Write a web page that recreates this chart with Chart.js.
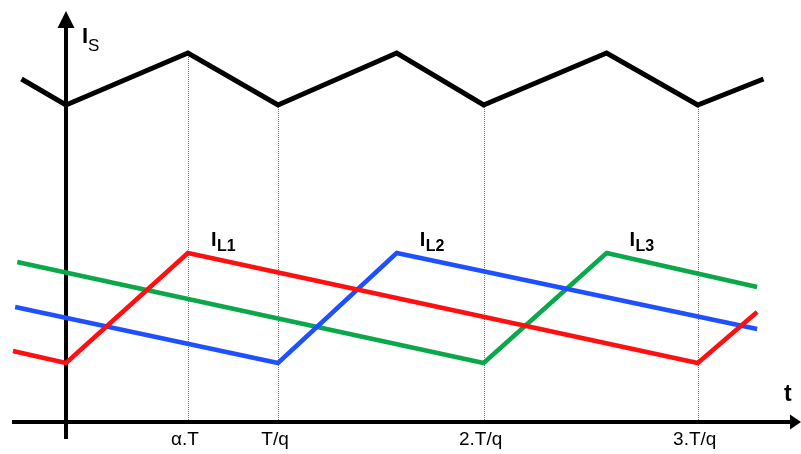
<!DOCTYPE html>
<html>
<head>
<meta charset="utf-8">
<script src="https://cdn.jsdelivr.net/npm/chart.js@4"></script>
<style>
  body { margin: 0; background: #fff; }
  #wrap { width: 801px; height: 454px; }
</style>
</head>
<body>
<div id="wrap"><canvas id="myChart"></canvas></div>
<script>
// time in units of T/q, current in arbitrary units
var isX = [-0.21, 0, 0.575, 1, 1.56, 1.97, 2.55, 2.98, 3.29];
var isY = [34.3, 31.7, 36.9, 31.7, 36.9, 31.7, 36.9, 31.7, 34.3];

var il1X = [-0.25, 0, 0.575, 2.98, 3.26];
var il1Y = [7.1, 5.9, 16.9, 5.9, 11.0];

var il2X = [-0.24, 1, 1.56, 3.26];
var il2Y = [11.5, 5.9, 16.9, 9.3];

var il3X = [-0.23, 1.97, 2.55, 3.26];
var il3Y = [16.0, 5.9, 16.9, 13.5];

var tickLabels = ['α.T', 'T/q', '2.T/q', '3.T/q'];
var tickIdx = [2, 3, 5, 7];       // points of Is where the dotted guides start
var peakIdx = [2, 2, 2];          // peak point of each IL series
var ilNames = ['1', '2', '3'];

function pts(xs, ys) {
    return xs.map(function(x, i) { return { x: x, y: ys[i] }; });
}

function series(label, xs, ys, color, w) {
    return {
        label: label,
        data: pts(xs, ys),
        borderColor: color,
        borderWidth: w,
        pointRadius: 0,
        tension: 0,
        borderJoinStyle: 'miter',
        fill: false
    };
}

var decor = {
    id: 'decor',
    beforeDatasetsDraw: function(chart) {
        var ctx = chart.ctx;
        var xs = chart.scales.x, ys = chart.scales.y;
        var x0 = xs.getPixelForValue(0), y0 = ys.getPixelForValue(0);
        var isMeta = chart.getDatasetMeta(0);

        // dotted guides + tick labels
        ctx.save();
        ctx.strokeStyle = '#777';
        ctx.lineWidth = 1;
        ctx.setLineDash([1, 1]);
        tickIdx.forEach(function(k) {
            var p = isMeta.data[k];
            var px = Math.round(p.x) + 0.5;
            ctx.beginPath();
            ctx.moveTo(px, p.y);
            ctx.lineTo(px, y0);
            ctx.stroke();
        });
        ctx.setLineDash([]);
        ctx.fillStyle = '#000';
        ctx.font = '19px "Liberation Sans", Arial, sans-serif';
        ctx.textAlign = 'center';
        ctx.textBaseline = 'alphabetic';
        tickIdx.forEach(function(k, i) {
            ctx.fillText(tickLabels[i], isMeta.data[k].x - 3, y0 + 23);
        });

        // axes with arrows
        ctx.fillStyle = '#000';
        ctx.fillRect(12, y0 - 2, 780, 4);
        ctx.beginPath();
        ctx.moveTo(801, y0);
        ctx.lineTo(790, y0 - 7.5);
        ctx.lineTo(790, y0 + 7.5);
        ctx.closePath();
        ctx.fill();
        ctx.fillRect(x0 - 2, 26, 4, 413);
        ctx.beginPath();
        ctx.moveTo(x0, 11);
        ctx.lineTo(x0 - 8.5, 28);
        ctx.lineTo(x0 + 8.5, 28);
        ctx.closePath();
        ctx.fill();

        // axis names
        ctx.textAlign = 'left';
        ctx.font = 'bold 22px "Liberation Sans", Arial, sans-serif';
        ctx.fillText('I', x0 + 16, 43);
        ctx.font = '17px "Liberation Sans", Arial, sans-serif';
        ctx.fillText('S', x0 + 22, 51);
        ctx.font = 'bold 23px "Liberation Sans", Arial, sans-serif';
        ctx.fillText('t', 784, 401);

        // inductor current names
        for (var i = 0; i < 3; i++) {
            var pk = chart.getDatasetMeta(i + 1).data[peakIdx[i]];
            ctx.font = 'bold 20px "Liberation Sans", Arial, sans-serif';
            ctx.fillText('I', pk.x + 23, pk.y - 7);
            ctx.font = 'bold 16px "Liberation Sans", Arial, sans-serif';
            ctx.fillText('L' + ilNames[i], pk.x + 29, pk.y - 2);
        }
        ctx.restore();
    }
};

var chart = new Chart(document.getElementById('myChart').getContext('2d'), {
    type: 'line',
    data: {
        datasets: [
            series('Is', isX, isY, '#000000', 5),
            series('IL1', il1X, il1Y, '#ff1010', 4.5),
            series('IL2', il2X, il2Y, '#1e50ff', 4.5),
            series('IL3', il3X, il3Y, '#0aa84a', 4.5)
        ]
    },
    options: {
        responsive: true,
        maintainAspectRatio: false,
        animation: false,
        layout: { padding: 0 },
        plugins: { legend: { display: false }, tooltip: { enabled: false } },
        scales: {
            x: { type: 'linear', min: -66 / 212, max: 735 / 212, display: false },
            y: { type: 'linear', min: -3.2, max: 42.2, display: false }
        }
    },
    plugins: [decor]
});
</script>
</body>
</html>
